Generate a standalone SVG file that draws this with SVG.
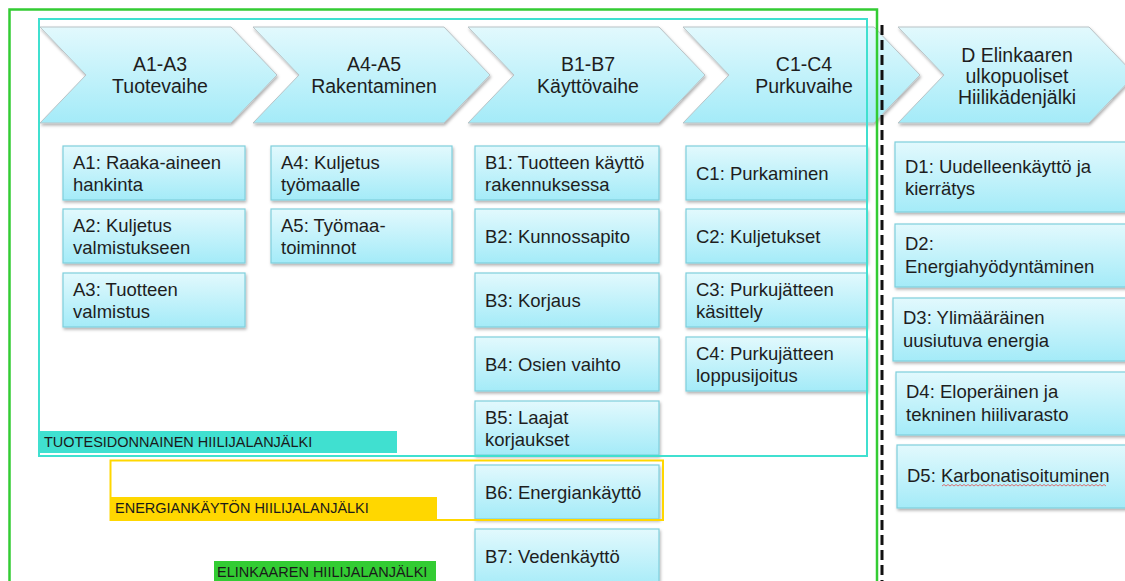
<svg xmlns="http://www.w3.org/2000/svg" width="1125" height="581" viewBox="0 0 1125 581">
<defs>
<linearGradient id="g" x1="0" y1="0" x2="0" y2="1">
<stop offset="0" stop-color="#e2f9fd"/>
<stop offset="1" stop-color="#a4ebf8"/>
</linearGradient>
<filter id="sh" x="-10%" y="-10%" width="125%" height="130%">
<feDropShadow dx="1" dy="2" stdDeviation="1.5" flood-color="#000" flood-opacity="0.3"/>
</filter>
<style>
.chev{fill:url(#g);stroke:#b9c3c6;stroke-width:1;filter:url(#sh)}
.box{fill:url(#g);stroke:#7fcfdc;stroke-width:1.2;filter:url(#sh)}
.ct{font-family:"Liberation Sans",Arial,sans-serif;font-size:19.5px;fill:#1e1e1e;text-anchor:middle}
.bt{font-family:"Liberation Sans",Arial,sans-serif;font-size:18.5px;fill:#1e1e1e}
.lt{font-family:"Liberation Sans",Arial,sans-serif;font-size:14.5px;fill:#1a1a1a}
</style>
</defs>
<rect width="1125" height="581" fill="#ffffff"/>

<g id="chevron-A1-A3">
<path class="chev" d="M40,27 L231,27 L277,75 L231,123 L40,123 L86,75 Z"/>
<text class="ct" x="160" y="71">A1-A3</text>
<text class="ct" x="160" y="93">Tuotevaihe</text>
</g>
<g id="chevron-A4-A5">
<path class="chev" d="M253,27 L444,27 L490,75 L444,123 L253,123 L299,75 Z"/>
<text class="ct" x="374" y="71">A4-A5</text>
<text class="ct" x="374" y="93">Rakentaminen</text>
</g>
<g id="chevron-B1-B7">
<path class="chev" d="M468,27 L659,27 L705,75 L659,123 L468,123 L514,75 Z"/>
<text class="ct" x="588" y="71">B1-B7</text>
<text class="ct" x="588" y="93">Käyttövaihe</text>
</g>
<g id="chevron-C1-C4">
<path class="chev" d="M683,27 L874,27 L920,75 L874,123 L683,123 L729,75 Z"/>
<text class="ct" x="804" y="71">C1-C4</text>
<text class="ct" x="804" y="93">Purkuvaihe</text>
</g>
<g id="chevron-D">
<path class="chev" d="M898,27 L1089,27 L1135,75 L1089,123 L898,123 L944,75 Z"/>
<text class="ct" x="1017" y="62">D Elinkaaren</text>
<text class="ct" x="1017" y="83">ulkopuoliset</text>
<text class="ct" x="1017" y="104">Hiilikädenjälki</text>
</g>

<g id="box-A1"><rect class="box" x="63" y="146" width="182" height="54"/><text class="bt" x="73" y="169">A1: Raaka-aineen</text><text class="bt" x="73" y="191">hankinta</text></g>
<g id="box-A2"><rect class="box" x="63" y="209" width="182" height="54"/><text class="bt" x="73" y="232">A2: Kuljetus</text><text class="bt" x="73" y="254">valmistukseen</text></g>
<g id="box-A3"><rect class="box" x="63" y="273" width="182" height="54"/><text class="bt" x="73" y="296">A3: Tuotteen</text><text class="bt" x="73" y="318">valmistus</text></g>

<g id="box-A4"><rect class="box" x="271" y="146" width="181" height="54"/><text class="bt" x="281" y="169">A4: Kuljetus</text><text class="bt" x="281" y="191">työmaalle</text></g>
<g id="box-A5"><rect class="box" x="271" y="209" width="181" height="54"/><text class="bt" x="281" y="232">A5: Työmaa-</text><text class="bt" x="281" y="254">toiminnot</text></g>

<g id="box-B1"><rect class="box" x="475" y="146" width="184" height="54"/><text class="bt" x="485" y="169">B1: Tuotteen käyttö</text><text class="bt" x="485" y="191">rakennuksessa</text></g>
<g id="box-B2"><rect class="box" x="475" y="209" width="184" height="54"/><text class="bt" x="485" y="243">B2: Kunnossapito</text></g>
<g id="box-B3"><rect class="box" x="475" y="273" width="184" height="54"/><text class="bt" x="485" y="307">B3: Korjaus</text></g>
<g id="box-B4"><rect class="box" x="475" y="337" width="184" height="54"/><text class="bt" x="485" y="371">B4: Osien vaihto</text></g>
<g id="box-B5"><rect class="box" x="475" y="401" width="184" height="54"/><text class="bt" x="485" y="424">B5: Laajat</text><text class="bt" x="485" y="446">korjaukset</text></g>
<g id="box-B6"><rect class="box" x="475" y="465" width="184" height="54"/><text class="bt" x="485" y="499">B6: Energiankäyttö</text></g>
<g id="box-B7"><rect class="box" x="475" y="529" width="184" height="60"/><text class="bt" x="485" y="563">B7: Vedenkäyttö</text></g>

<g id="box-C1"><rect class="box" x="686" y="146" width="181" height="54"/><text class="bt" x="696" y="180">C1: Purkaminen</text></g>
<g id="box-C2"><rect class="box" x="686" y="209" width="181" height="54"/><text class="bt" x="696" y="243">C2: Kuljetukset</text></g>
<g id="box-C3"><rect class="box" x="686" y="273" width="181" height="54"/><text class="bt" x="696" y="296">C3: Purkujätteen</text><text class="bt" x="696" y="318">käsittely</text></g>
<g id="box-C4"><rect class="box" x="686" y="337" width="181" height="54"/><text class="bt" x="696" y="360">C4: Purkujätteen</text><text class="bt" x="696" y="382">loppusijoitus</text></g>

<g id="box-D1"><rect class="box" x="895" y="142" width="240" height="70"/><text class="bt" x="905" y="173">D1: Uudelleenkäyttö ja</text><text class="bt" x="905" y="195">kierrätys</text></g>
<g id="box-D2"><rect class="box" x="895" y="224" width="240" height="63"/><text class="bt" x="905" y="250">D2:</text><text class="bt" x="905" y="273">Energiahyödyntäminen</text></g>
<g id="box-D3"><rect class="box" x="893" y="298" width="242" height="63"/><text class="bt" x="903" y="324">D3: Ylimääräinen</text><text class="bt" x="903" y="347">uusiutuva energia</text></g>
<g id="box-D4"><rect class="box" x="896" y="372" width="239" height="63"/><text class="bt" x="906" y="398">D4: Eloperäinen ja</text><text class="bt" x="906" y="421">tekninen hiilivarasto</text></g>
<g id="box-D5"><rect class="box" x="897" y="445" width="238" height="63"/><text class="bt" x="907" y="482">D5: Karbonatisoituminen</text>
<path d="M942,486 l2,-1.5 l2,1.5 l2,-1.5 l2,1.5 l2,-1.5 l2,1.5 l2,-1.5 l2,1.5 l2,-1.5 l2,1.5 l2,-1.5 l2,1.5 l2,-1.5 l2,1.5 l2,-1.5 l2,1.5 l2,-1.5 l2,1.5 l2,-1.5 l2,1.5 l2,-1.5 l2,1.5 l2,-1.5 l2,1.5 l2,-1.5 l2,1.5 l2,-1.5 l2,1.5 l2,-1.5 l2,1.5 l2,-1.5 l2,1.5 l2,-1.5 l2,1.5 l2,-1.5 l2,1.5 l2,-1.5 l2,1.5 l2,-1.5 l2,1.5 l2,-1.5 l2,1.5 l2,-1.5 l2,1.5 l2,-1.5 l2,1.5 l2,-1.5 l2,1.5 l2,-1.5 l2,1.5 l2,-1.5 l2,1.5 l2,-1.5 l2,1.5 l2,-1.5 l2,1.5 l2,-1.5 l2,1.5 l2,-1.5 l2,1.5 l2,-1.5 l2,1.5 l2,-1.5 l2,1.5 l2,-1.5 l2,1.5 l2,-1.5 l2,1.5 l2,-1.5 l2,1.5 l2,-1.5 l2,1.5 l2,-1.5 l2,1.5 l2,-1.5 l2,1.5 l2,-1.5 l2,1.5 l2,-1.5 l2,1.5 l2,-1.5 l2,1.5" fill="none" stroke="#e05050" stroke-width="0.8"/>
</g>

<g id="frames">
<rect x="9.5" y="9.5" width="867.5" height="600" fill="none" stroke="#33cc33" stroke-width="2.5"/>
<rect x="39" y="19" width="828" height="437" fill="none" stroke="#40e0d0" stroke-width="2"/>
<rect x="110.5" y="460.5" width="552.5" height="59.5" fill="none" stroke="#ffd700" stroke-width="2"/>
<line x1="882" y1="25" x2="882" y2="581" stroke="#111" stroke-width="3" stroke-dasharray="10,5"/>
</g>

<g id="label-tuote">
<rect x="39" y="431" width="358" height="22" fill="#40e0d0"/>
<text class="lt" x="44" y="447">TUOTESIDONNAINEN HIILIJALANJÄLKI</text>
</g>
<g id="label-energia">
<rect x="110" y="497" width="327" height="23" fill="#ffd700"/>
<text class="lt" x="115" y="513">ENERGIANKÄYTÖN HIILIJALANJÄLKI</text>
</g>
<g id="label-elinkaari">
<rect x="214" y="561" width="222" height="20" fill="#33cc33"/>
<text class="lt" x="217" y="577">ELINKAAREN HIILIJALANJÄLKI</text>
</g>
</svg>
